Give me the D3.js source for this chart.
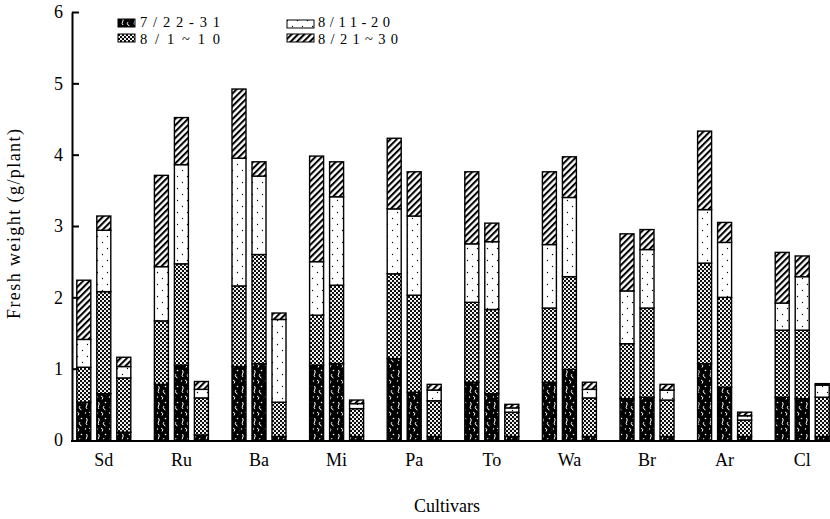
<!DOCTYPE html>
<html>
<head>
<meta charset="utf-8">
<script src="https://cdn.jsdelivr.net/npm/d3@7"></script>
<style>
  html, body { margin: 0; padding: 0; background: #fff; }
  svg { display: block; font-family: "Liberation Serif", "DejaVu Serif", serif; }
</style>
</head>
<body>
<svg id="chart" width="830" height="519"></svg>
<script>
// ---------- data ----------
const cultivars = ["Sd", "Ru", "Ba", "Mi", "Pa", "To", "Wa", "Br", "Ar", "Cl"];
const bars = ["b1", "b2", "b3"];            // three bars per cultivar
const periods = ["7/22-31", "8/1~10", "8/11-20", "8/21~30"];
const yTicks = [0, 1, 2, 3, 4, 5, 6];

// fresh weight gained in each period (g/plant), [cultivar][bar]
const p0722_31 = [[0.53,0.65,0.11],[0.78,1.05,0.07],[1.03,1.07,0.05],[1.05,1.07,0.05],[1.14,0.67,0.05],
                  [0.81,0.65,0.05],[0.81,0.99,0.05],[0.58,0.60,0.05],[1.07,0.74,0.05],[0.60,0.58,0.05]];
const p0801_10 = [[0.49,1.43,0.76],[0.89,1.42,0.52],[1.13,1.53,0.48],[0.70,1.10,0.39],[1.19,1.36,0.50],
                  [1.12,1.18,0.34],[1.04,1.30,0.54],[0.77,1.25,0.51],[1.41,1.26,0.23],[0.94,0.96,0.55]];
const p0811_20 = [[0.39,0.86,0.16],[0.76,1.39,0.12],[1.79,1.10,1.16],[0.75,1.24,0.07],[0.91,1.11,0.15],
                  [0.82,0.95,0.06],[0.89,1.11,0.12],[0.74,0.82,0.14],[0.75,0.77,0.06],[0.38,0.75,0.17]];
const p0821_30 = [[0.83,0.20,0.13],[1.28,0.66,0.11],[0.97,0.20,0.09],[1.48,0.49,0.05],[0.99,0.62,0.08],
                  [1.01,0.26,0.05],[1.02,0.57,0.10],[0.80,0.28,0.08],[1.10,0.28,0.05],[0.71,0.29,0.02]];
const seriesValues = [p0722_31, p0801_10, p0811_20, p0821_30];

// ---------- setup ----------
const svg = d3.select("#chart");
const defs = svg.append("defs");

// pattern: black with white speckles
const pA = defs.append("pattern").attr("id", "patA").attr("patternUnits", "userSpaceOnUse")
  .attr("width", 12).attr("height", 16);
pA.append("rect").attr("width", 12).attr("height", 16).attr("fill", "#000");
pA.append("path").attr("d", "M2.5 2 q1.5 2 0 4 q-1 1.5 0.5 3").attr("stroke", "#fff").attr("stroke-width", 1).attr("fill", "none");
pA.append("path").attr("d", "M8 6 q-1.5 1.5 0 3 l1.5 1").attr("stroke", "#fff").attr("stroke-width", 1).attr("fill", "none");
pA.append("path").attr("d", "M5 12 l2 1.5 l-1 2").attr("stroke", "#fff").attr("stroke-width", 1).attr("fill", "none");
pA.append("circle").attr("cx", 9.5).attr("cy", 2.5).attr("r", 0.8).attr("fill", "#fff");
pA.append("circle").attr("cx", 1.5).attr("cy", 13).attr("r", 0.7).attr("fill", "#fff");

// pattern: dense dots
const pB = defs.append("pattern").attr("id", "patB").attr("patternUnits", "userSpaceOnUse")
  .attr("width", 4).attr("height", 4);
pB.append("rect").attr("width", 4).attr("height", 4).attr("fill", "#fff");
pB.append("circle").attr("cx", 1).attr("cy", 1).attr("r", 1.15).attr("fill", "#000");
pB.append("circle").attr("cx", 3).attr("cy", 3).attr("r", 1.15).attr("fill", "#000");

// pattern: sparse dots
const pC = defs.append("pattern").attr("id", "patC").attr("patternUnits", "userSpaceOnUse")
  .attr("width", 10).attr("height", 12);
pC.append("rect").attr("width", 10).attr("height", 12).attr("fill", "#fff");
pC.append("circle").attr("cx", 2.5).attr("cy", 2.5).attr("r", 0.65).attr("fill", "#000");
pC.append("circle").attr("cx", 7.5).attr("cy", 8.5).attr("r", 0.65).attr("fill", "#000");

// pattern: diagonal hatch "/"
const pD = defs.append("pattern").attr("id", "patD").attr("patternUnits", "userSpaceOnUse")
  .attr("width", 4.5).attr("height", 4.5).attr("patternTransform", "rotate(45)");
pD.append("rect").attr("width", 4.5).attr("height", 4.5).attr("fill", "#fff");
pD.append("line").attr("x1", 1).attr("y1", 0).attr("x2", 1).attr("y2", 4.5)
  .attr("stroke", "#000").attr("stroke-width", 2.1);

const fills = ["url(#patA)", "url(#patB)", "url(#patC)", "url(#patD)"];

// ---------- scales ----------
const x = d3.scaleBand().domain(cultivars).range([65, 841]).padding(0);
const xi = d3.scaleBand().domain(bars).range([-27, 27]).paddingInner(0.3).paddingOuter(0);
const y = d3.scaleLinear().domain([0, 6]).range([440, 12]);

// ---------- stacked data ----------
const rows = [];
cultivars.forEach((c, ci) => {
  bars.forEach((b, bi) => {
    const r = { cultivar: c, bar: b };
    periods.forEach((p, pi) => { r[p] = seriesValues[pi][ci][bi]; });
    rows.push(r);
  });
});
const stacked = d3.stack().keys(periods)(rows);

const g = svg.append("g");
stacked.forEach((layer, li) => {
  g.selectAll(null).data(layer).enter().append("rect")
    .attr("x", d => x(d.data.cultivar) + x.bandwidth() / 2 + xi(d.data.bar))
    .attr("width", xi.bandwidth())
    .attr("y", d => y(d[1]))
    .attr("height", d => Math.max(0, y(d[0]) - y(d[1])))
    .attr("fill", fills[li])
    .attr("stroke", "#000")
    .attr("stroke-width", 1.4);
});

// ---------- axes ----------
const yAxis = d3.axisLeft(y).tickValues(yTicks).tickFormat(d3.format("d"))
  .tickSize(-7).tickSizeOuter(0).tickPadding(9);
const ya = svg.append("g").attr("transform", "translate(72,0)").call(yAxis);
ya.select(".domain").attr("stroke-width", 2);
ya.selectAll(".tick line").attr("stroke-width", 2).filter(d => d === 0).remove();
ya.selectAll("text").attr("font-size", 18).attr("font-family", "Liberation Serif");

// baseline
svg.append("line").attr("x1", 71).attr("x2", 830).attr("y1", y(0) + 1).attr("y2", y(0) + 1)
  .attr("stroke", "#000").attr("stroke-width", 2);

const xAxis = d3.axisBottom(x).tickSize(0).tickPadding(12);
const xa = svg.append("g").attr("transform", `translate(0,${y(0) + 1})`).call(xAxis);
xa.select(".domain").remove();
xa.selectAll("text").attr("font-size", 18).attr("font-family", "Liberation Serif");

// axis titles
svg.append("text").attr("x", 447).attr("y", 512).attr("text-anchor", "middle")
  .attr("font-size", 18).text("Cultivars");
svg.append("text").attr("transform", "translate(20,224) rotate(-90)").attr("text-anchor", "middle")
  .attr("font-size", 18).attr("textLength", 190).attr("lengthAdjust", "spacing")
  .text("Fresh weight (g/plant)");

// ---------- legend ----------
const legendPos = [
  { sx: 118, sw: 17, sy: 19, tx: 140, ty: 27, tl: 80 },
  { sx: 118, sw: 17, sy: 34, tx: 140, ty: 44, tl: 80 },
  { sx: 287, sw: 27, sy: 20, tx: 318, ty: 27, tl: 72 },
  { sx: 287, sw: 27, sy: 34, tx: 318, ty: 44, tl: 80 }
];
periods.forEach((p, i) => {
  const lp = legendPos[i];
  svg.append("rect").attr("x", lp.sx).attr("y", lp.sy).attr("width", lp.sw).attr("height", 8)
    .attr("fill", fills[i]).attr("stroke", "#000").attr("stroke-width", 1);
  svg.append("text").attr("x", lp.tx).attr("y", lp.ty).attr("font-size", 14.5)
    .attr("textLength", lp.tl).attr("lengthAdjust", "spacing").text(p);
});
</script>
</body>
</html>
